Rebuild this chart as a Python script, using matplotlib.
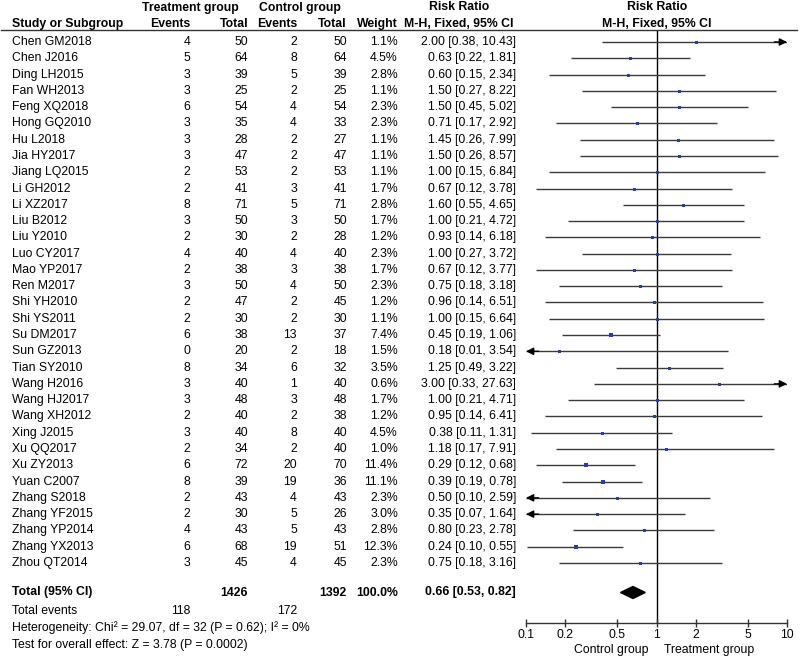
import matplotlib
matplotlib.use("Agg")
import matplotlib.pyplot as plt
from matplotlib.transforms import blended_transform_factory
from matplotlib.lines import Line2D
import numpy as np

plt.rcParams['font.family'] = ['Liberation Sans', 'DejaVu Sans']

studies = ["Chen GM2018", "Chen J2016", "Ding LH2015", "Fan WH2013", "Feng XQ2018",
           "Hong GQ2010", "Hu L2018", "Jia HY2017", "Jiang LQ2015", "Li GH2012",
           "Li XZ2017", "Liu B2012", "Liu Y2010", "Luo CY2017", "Mao YP2017",
           "Ren M2017", "Shi YH2010", "Shi YS2011", "Su DM2017", "Sun GZ2013",
           "Tian SY2010", "Wang H2016", "Wang HJ2017", "Wang XH2012", "Xing J2015",
           "Xu QQ2017", "Xu ZY2013", "Yuan C2007", "Zhang S2018", "Zhang YF2015",
           "Zhang YP2014", "Zhang YX2013", "Zhou QT2014"]
t_events = [4, 5, 3, 3, 6, 3, 3, 3, 2, 2, 8, 3, 2, 4, 2, 3, 2, 2, 6, 0, 8, 3, 3, 2, 3, 2, 6, 8, 2, 2, 4, 6, 3]
t_total = [50, 64, 39, 25, 54, 35, 28, 47, 53, 41, 71, 50, 30, 40, 38, 50, 47, 30, 38, 20, 34, 40, 48, 40, 40, 34, 72, 39, 43, 30, 43, 68, 45]
c_events = [2, 8, 5, 2, 4, 4, 2, 2, 2, 3, 5, 3, 2, 4, 3, 4, 2, 2, 13, 2, 6, 1, 3, 2, 8, 2, 20, 19, 4, 5, 5, 19, 4]
c_total = [50, 64, 39, 25, 54, 33, 27, 47, 53, 41, 71, 50, 28, 40, 38, 50, 45, 30, 37, 18, 32, 40, 48, 38, 40, 40, 70, 36, 43, 26, 43, 51, 45]
weight = [1.1, 4.5, 2.8, 1.1, 2.3, 2.3, 1.1, 1.1, 1.1, 1.7, 2.8, 1.7, 1.2, 2.3, 1.7, 2.3, 1.2, 1.1, 7.4, 1.5,
          3.5, 0.6, 1.7, 1.2, 4.5, 1.0, 11.4, 11.1, 2.3, 3.0, 2.8, 12.3, 2.3]
rr = [2.00, 0.63, 0.60, 1.50, 1.50, 0.71, 1.45, 1.50, 1.00, 0.67, 1.60, 1.00, 0.93, 1.00, 0.67, 0.75, 0.96, 1.00,
      0.45, 0.18, 1.25, 3.00, 1.00, 0.95, 0.38, 1.18, 0.29, 0.39, 0.50, 0.35, 0.80, 0.24, 0.75]
ci_lo = [0.38, 0.22, 0.15, 0.27, 0.45, 0.17, 0.26, 0.26, 0.15, 0.12, 0.55, 0.21, 0.14, 0.27, 0.12, 0.18, 0.14, 0.15,
         0.19, 0.01, 0.49, 0.33, 0.21, 0.14, 0.11, 0.17, 0.12, 0.19, 0.097, 0.07, 0.23, 0.102, 0.18]
ci_hi = [10.43, 1.81, 2.34, 8.22, 5.02, 2.92, 7.99, 8.57, 6.84, 3.78, 4.65, 4.72, 6.18, 3.72, 3.77, 3.18, 6.51, 6.64,
         1.06, 3.54, 3.22, 27.63, 4.71, 6.41, 1.31, 7.91, 0.68, 0.78, 2.59, 1.64, 2.78, 0.55, 3.16]
total_t, total_c = 1426, 1392
events_t_sum, events_c_sum = 118, 172
pooled = (0.66, 0.53, 0.82)
xticks = [0.1, 0.2, 0.5, 1, 2, 5, 10]
xtick_labels = ["0.1", "0.2", "0.5", "1", "2", "5", "10"]
het_text = "Heterogeneity: Chi\u00b2 = 29.07, df = 32 (P = 0.62); I\u00b2 = 0%"
test_text = "Test for overall effect: Z = 3.78 (P = 0.0002)"

W, H = 800, 659
fig = plt.figure(figsize=(8, 6.59), dpi=100)

ROW0, STEP = 42.0, 16.28
def row_of(pix):
    return (pix - ROW0) / STEP

ax_top_pix, ax_bot_pix = 29.5, 622.5
ax_left_pix, ax_right_pix = 526, 787
ax = fig.add_axes([ax_left_pix / W, 1 - ax_bot_pix / H,
                   (ax_right_pix - ax_left_pix) / W, (ax_bot_pix - ax_top_pix) / H])
ax.set_xscale('log')
ax.set_xlim(0.1, 10)
ax.set_ylim(row_of(ax_bot_pix), row_of(ax_top_pix))
for s in ['top', 'right', 'left']:
    ax.spines[s].set_visible(False)
ax.spines['bottom'].set_color('#333333')
ax.spines['bottom'].set_linewidth(1.0)
ax.set_yticks([])
ax.set_xticks(xticks)
ax.set_xticklabels(xtick_labels)
ax.minorticks_off()
ax.tick_params(axis='x', direction='inout', length=6, width=1.0, color='#333333',
               labelsize=8.8, pad=2)
ax.patch.set_alpha(0)

ax.axvline(1, color='black', lw=1.0, zorder=1)

line_col = '#3a3a3a'
sq_col = '#2a3f9a'
xmin, xmax = 0.1, 10
for i in range(len(studies)):
    lo, hi = ci_lo[i], ci_hi[i]
    l = max(lo, xmin)
    h = min(hi, xmax)
    ax.plot([l, h], [i, i], color=line_col, lw=1.0, zorder=2, solid_capstyle='butt')
    if hi > xmax:
        ax.annotate('', xy=(xmax, i), xytext=(xmax * 0.8, i),
                    arrowprops=dict(arrowstyle='-|>', color='black', lw=1.0,
                                    shrinkA=0, shrinkB=0, mutation_scale=11))
    if lo < xmin:
        ax.annotate('', xy=(xmin, i), xytext=(xmin * 1.25, i),
                    arrowprops=dict(arrowstyle='-|>', color='black', lw=1.0,
                                    shrinkA=0, shrinkB=0, mutation_scale=11))
    side_px = max(3.0, 1.4 * np.sqrt(weight[i]))
    ax.plot(rr[i], i, marker='s', ms=side_px * 0.72, color=sq_col, mew=0, zorder=3)

# diamond
y_tot = row_of(592.5)
dh = 6.0 / STEP
ax.fill([pooled[1], pooled[0], pooled[2], pooled[0]],
        [y_tot, y_tot - dh, y_tot, y_tot + dh], color='black', zorder=3)

tr = blended_transform_factory(fig.transFigure, ax.transData)
fs = 8.8
def fx(p):
    return p / W

def put(px, row, s, ha='right', bold=False):
    fig.text(fx(px), row, s, transform=tr, ha=ha, va='center', fontsize=fs,
             fontweight='bold' if bold else 'normal', clip_on=False)

# headers
hdr1 = row_of(7.5)
hdr2 = row_of(24)
put(190, hdr1, "Treatment group", ha='center', bold=True)
put(300, hdr1, "Control group", ha='center', bold=True)
put(459, hdr1, "Risk Ratio", ha='center', bold=True)
put(657, hdr1, "Risk Ratio", ha='center', bold=True)
put(12, hdr2, "Study or Subgroup", ha='left', bold=True)
put(190, hdr2, "Events", bold=True)
put(248, hdr2, "Total", bold=True)
put(297, hdr2, "Events", bold=True)
put(347, hdr2, "Total", bold=True)
put(398, hdr2, "Weight", bold=True)
put(459, hdr2, "M-H, Fixed, 95% CI", ha='center', bold=True)
put(657, hdr2, "M-H, Fixed, 95% CI", ha='center', bold=True)
fig.add_artist(Line2D([1 / W, 797 / W], [1 - 29.5 / H, 1 - 29.5 / H],
                      transform=fig.transFigure, color='#333333', lw=1.0))

for i, name in enumerate(studies):
    put(12, i, name, ha='left')
    put(190, i, str(t_events[i]))
    put(248, i, str(t_total[i]))
    put(297, i, str(c_events[i]))
    put(347, i, str(c_total[i]))
    put(398, i, f"{weight[i]:.1f}%")
    put(516, i, f"{rr[i]:.2f} [{ci_lo[i]:.2f}, {ci_hi[i]:.2f}]")

put(12, y_tot, "Total (95% CI)", ha='left', bold=True)
put(248, y_tot, str(total_t), bold=True)
put(347, y_tot, str(total_c), bold=True)
put(398, y_tot, f"{sum(weight):.1f}%", bold=True)
put(516, y_tot, f"{pooled[0]:.2f} [{pooled[1]:.2f}, {pooled[2]:.2f}]", bold=True)

y_ev = row_of(610.5)
put(12, y_ev, "Total events", ha='left')
put(190, y_ev, str(events_t_sum))
put(297, y_ev, str(events_c_sum))
put(12, row_of(628), het_text, ha='left')
put(12, row_of(645), test_text, ha='left')

y_lab = row_of(650)
put(648, y_lab, "Control group", ha='right')
put(664, y_lab, "Treatment group", ha='left')

fig.savefig("out.png", dpi=100, facecolor='white')
